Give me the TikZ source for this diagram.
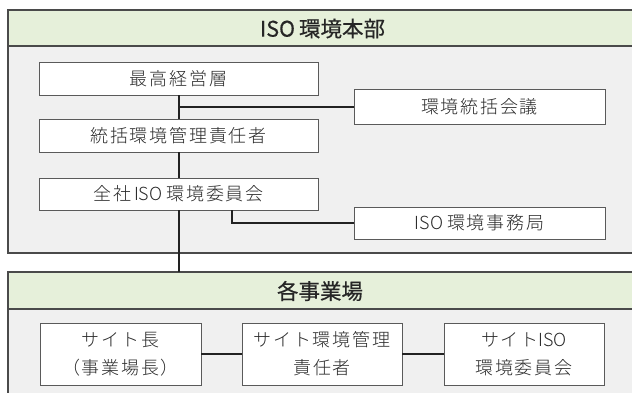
\documentclass[tikz,border=0pt]{standalone}
\usepackage{fontspec}
\setmainfont{Noto Sans CJK JP}
\newfontfamily\jpbox[LetterSpace=10]{Noto Sans CJK JP Light}
\newfontfamily\jpplain{Noto Sans CJK JP Light}
\newfontfamily\jphead[FakeBold=0.5]{Noto Sans CJK JP}
\newcommand{\isotxt}{{\jpplain ISO}\hspace{4pt}}
\newcommand{\isohead}{ISO\hspace{4pt}}
\definecolor{hdrgreen}{HTML}{E6F0DA}
\definecolor{bodygray}{HTML}{F0F0F0}
\definecolor{edgegray}{HTML}{4A4A4A}
\definecolor{boxedge}{HTML}{5A5A5A}
\definecolor{txtgray}{HTML}{2A2A2A}
\definecolor{linedark}{HTML}{222222}
\tikzset{
  outerbox/.style={fill=bodygray, draw=edgegray, line width=1.2pt},
  hdrbox/.style={fill=hdrgreen, draw=edgegray, line width=1.2pt},
  hdrtext/.style={font=\jphead\fontsize{21.5}{24}\selectfont, text=black!85, inner sep=0pt},
  orgbox/.style={draw=boxedge, fill=white, line width=0.9pt, inner sep=0pt,
    font=\jpbox\fontsize{18}{28}\selectfont, text=txtgray, align=center},
  conn/.style={draw=linedark, line width=2pt}
}
\begin{document}
\begin{tikzpicture}[x=1pt,y=-1pt]
\useasboundingbox (0,0) rectangle (632,392);
\clip (0,0) rectangle (632,392);
% top container
\path[outerbox] (8,10) rectangle (645,253);
\path[hdrbox] (8,10) rectangle (645,46);
\node[hdrtext] (hq) at (322.5,28.5) {\isohead 環境本部};
% bottom container
\path[outerbox] (8,272) rectangle (645,410);
\path[hdrbox] (8,272) rectangle (645,309);
\coordinate (sitetop) at (178.5,272);
\node[hdrtext] (site) at (320,291) {各事業場};
% boxes
\node[orgbox, minimum width=279pt, minimum height=33pt] (top) at (178.5,78.5) {最高経営層};
\node[orgbox, minimum width=279pt, minimum height=33pt] (gen) at (178.5,135.5) {統括環境管理責任者};
\node[orgbox, minimum width=279pt, minimum height=32pt] (comm) at (178.5,194) {全社\,\isotxt 環境委員会};
\node[orgbox, minimum width=251pt, minimum height=35pt] (council) at (479.5,106.5) {環境統括会議};
\node[orgbox, minimum width=251pt, minimum height=32pt] (office) at (479.5,223) {\isotxt 環境事務局};
\node[orgbox, minimum width=161pt, minimum height=62pt] (s1) at (120.5,354) {サイト長\\（事業場長）};
\node[orgbox, minimum width=160pt, minimum height=62pt] (s2) at (322,354) {サイト環境管理\\責任者};
\node[orgbox, minimum width=160pt, minimum height=62pt] (s3) at (524,354) {サイト{\jpplain ISO}\\環境委員会};
% connectors
\draw[conn] (top.south) -- (gen.north);
\draw[conn] (gen.south) -- (comm.north);
\draw[conn] (comm.south) -- (sitetop);
\draw[conn] (top.south |- council.west) -- (council.west);
\draw[conn] ([xshift=53.5pt]comm.south) |- (office.west);
\draw[conn] (s1.east) -- (s2.west);
\draw[conn] (s2.east) -- (s3.west);
\end{tikzpicture}
\end{document}
